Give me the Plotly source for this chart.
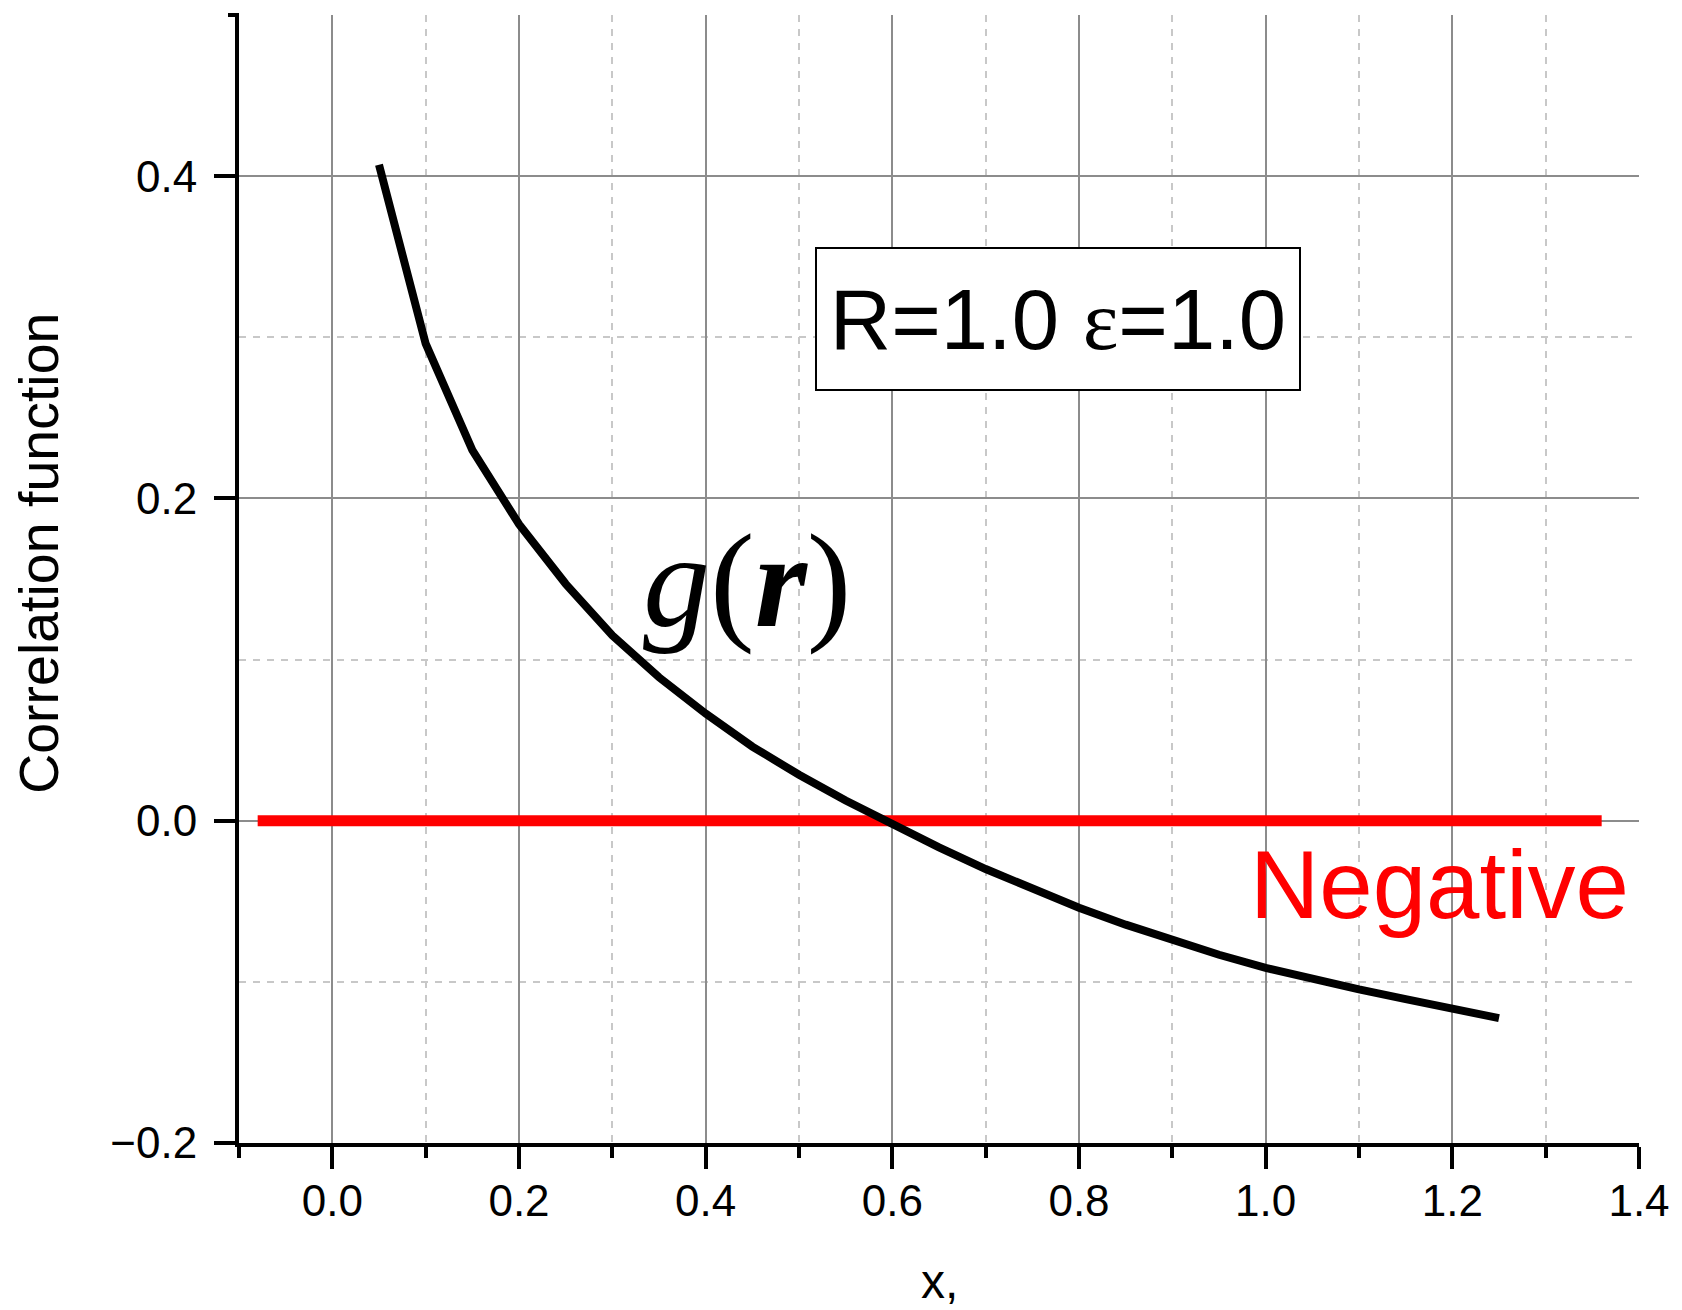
import plotly.graph_objects as go

# ---- data ----
r_vals = [0.05, 0.10, 0.15, 0.20, 0.25, 0.30, 0.35, 0.40, 0.45, 0.50, 0.55, 0.60, 0.65,
          0.70, 0.75, 0.80, 0.85, 0.90, 0.95, 1.00, 1.05, 1.10, 1.15, 1.20, 1.25]
g_vals = [0.407, 0.296, 0.230, 0.184, 0.147, 0.115, 0.089, 0.0665, 0.046, 0.0285, 0.0125, -0.0025, -0.0165,
          -0.0300, -0.0425, -0.054, -0.0645, -0.0745, -0.0832, -0.0913, -0.0983, -0.1047, -0.1107, -0.1165, -0.1225]
zero_x = [-0.08, 1.36]
zero_y = [0.0, 0.0]

x_ticks = [0.0, 0.2, 0.4, 0.6, 0.8, 1.0, 1.2, 1.4]
x_ticklabels = ["0.0", "0.2", "0.4", "0.6", "0.8", "1.0", "1.2", "1.4"]
y_ticks = [-0.2, 0.0, 0.2, 0.4]
y_ticklabels = ["\u22120.2", "0.0", "0.2", "0.4"]

x_title = "x,"
y_title = "Correlation function"
curve_label = "<i>g</i>(<b><i>r</i></b>)"
param_label = "R=1.0 <span style=\"font-family:'Liberation Serif'\">\u03b5</span>=1.0"
neg_label = "Negative"

fig = go.Figure()
fig.add_trace(go.Scatter(x=zero_x, y=zero_y, mode="lines",
                         line=dict(color="#ff0000", width=11), showlegend=False))
fig.add_trace(go.Scatter(x=r_vals, y=g_vals, mode="lines",
                         line=dict(color="black", width=8), showlegend=False))

SANS = "Liberation Sans, Arial, sans-serif"

fig.update_layout(
    width=1682, height=1310,
    margin=dict(l=239, r=41, t=15, b=167),
    paper_bgcolor="white", plot_bgcolor="white",
    showlegend=False,
    xaxis=dict(
        range=[-0.1, 1.4], tickmode="array", tickvals=x_ticks, ticktext=x_ticklabels,
        showline=True, linecolor="black", linewidth=4,
        ticks="outside", ticklen=22, tickwidth=4, tickcolor="black",
        tickfont=dict(family=SANS, size=44, color="black"),
        ticklabelstandoff=-6,
        showgrid=True, gridcolor="#8c8c8c", gridwidth=2,
        zeroline=False,
        minor=dict(dtick=0.1, tick0=0, ticks="outside", ticklen=11, tickwidth=4, tickcolor="black",
                   showgrid=True, gridcolor="#c8c8c8", gridwidth=1.5, griddash="7px,7px"),
    ),
    yaxis=dict(
        range=[-0.2, 0.5], tickmode="array", tickvals=y_ticks, ticktext=y_ticklabels,
        showline=True, linecolor="black", linewidth=4,
        ticks="outside", ticklen=21, tickwidth=4, tickcolor="black",
        tickfont=dict(family=SANS, size=44, color="black"),
        ticklabelstandoff=8,
        showgrid=True, gridcolor="#8c8c8c", gridwidth=2,
        zeroline=False,
        minor=dict(dtick=0.1, tick0=0, ticks="",
                   showgrid=True, gridcolor="#c8c8c8", gridwidth=1.5, griddash="7px,7px"),
    ),
)

annotations = [
    dict(text=y_title, xref="paper", yref="y", x=0, y=0.1656, xshift=-200,
         textangle=-90, showarrow=False, xanchor="center", yanchor="middle",
         font=dict(family=SANS, size=55.5, color="black")),
    dict(text=x_title, xref="paper", yref="paper", x=0.5, y=0, yshift=-138,
         showarrow=False, xanchor="center", yanchor="middle",
         font=dict(family=SANS, size=48, color="black")),
    dict(text=param_label, xref="x", yref="y", x=0.7775, y=0.3112,
         showarrow=False, xanchor="center", yanchor="middle",
         width=480, height=138, bordercolor="black", borderwidth=2, borderpad=1,
         bgcolor="white",
         font=dict(family=SANS, size=85, color="black")),
    dict(text=curve_label, xref="x", yref="y", x=0.444, y=0.1485,
         showarrow=False, xanchor="center", yanchor="middle",
         font=dict(family="Liberation Serif, Times New Roman, serif", size=134, color="black")),
    dict(text=neg_label, xref="x", yref="y", x=1.1862, y=-0.0395,
         showarrow=False, xanchor="center", yanchor="middle",
         font=dict(family=SANS, size=96, color="#ff0000")),
]
fig.update_layout(annotations=annotations)

fig.add_shape(type="line", xref="paper", yref="paper", xsizemode="pixel", xanchor=0,
              x0=-11, x1=0, y0=1, y1=1, line=dict(color="black", width=4))

fig.write_html("out.html")
